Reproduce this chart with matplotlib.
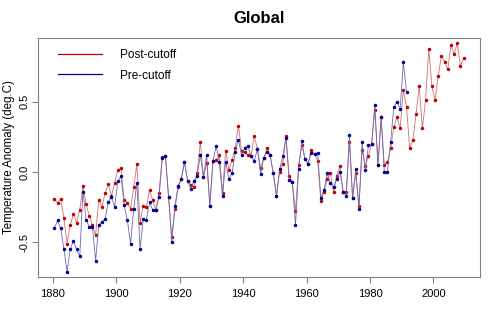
import numpy as np
import matplotlib
matplotlib.use("Agg")
import matplotlib.pyplot as plt
from matplotlib.lines import Line2D

plt.rcParams['font.family'] = ['Liberation Sans', 'DejaVu Sans']

# annual global anomalies (deg C)
post_years = np.arange(1880, 2010)
post_cutoff = [
    -0.19, -0.22, -0.19, -0.33, -0.51, -0.38, -0.30, -0.36, -0.27, -0.10,
    -0.23, -0.31, -0.38, -0.45, -0.20, -0.25, -0.15, -0.085, -0.17, -0.08,
    0.015, 0.027, -0.20, -0.22, -0.26, -0.11, 0.055, -0.36, -0.24, -0.25,
    -0.13, -0.20, -0.27, -0.15, 0.105, 0.114, -0.18, -0.46, -0.265, -0.11,
    -0.05, 0.07, -0.063, -0.09, -0.108, -0.004, 0.21, -0.037, 0.067, -0.24,
    0.08, 0.086, 0.12, -0.15, 0.152, 0.015, 0.086, 0.17, 0.33, 0.15,
    0.145, 0.12, 0.11, 0.256, 0.164, 0.03, 0.098, 0.17, 0.12, -0.01,
    -0.17, 0.0, 0.06, 0.256, -0.03, -0.07, -0.28, 0.05, 0.19, 0.09,
    0.06, 0.157, 0.128, 0.08, -0.205, -0.14, -0.05, -0.01, -0.146, -0.03,
    0.04, -0.14, -0.146, 0.216, -0.186, -0.01, -0.245, 0.157, 0.04, 0.114,
    0.20, 0.44, 0.05, 0.39, 0.05, 0.07, 0.17, 0.32, 0.39, 0.31,
    0.58, 0.46, 0.17, 0.23, 0.41, 0.61, 0.31, 0.51, 0.874, 0.61,
    0.51, 0.685, 0.825, 0.785, 0.73, 0.90, 0.837, 0.915, 0.75, 0.81,
]

pre_years = np.arange(1880, 1992)
pre_cutoff = [
    -0.40, -0.345, -0.40, -0.55, -0.71, -0.55, -0.49, -0.55, -0.60, -0.14,
    -0.34, -0.39, -0.39, -0.63, -0.375, -0.354, -0.333, -0.212, -0.179, -0.248,
    -0.065, -0.032, -0.234, -0.34, -0.51, -0.265, -0.075, -0.55, -0.335, -0.34,
    -0.217, -0.27, -0.27, -0.175, 0.098, 0.114, -0.18, -0.50, -0.24, -0.097,
    -0.05, 0.07, -0.063, -0.12, -0.065, -0.028, 0.12, -0.037, 0.12, -0.24,
    0.08, 0.185, 0.074, -0.17, 0.074, -0.05, -0.01, 0.145, 0.23, 0.12,
    0.173, 0.185, 0.11, 0.077, 0.164, -0.013, 0.098, 0.145, 0.12, -0.01,
    -0.17, 0.02, 0.11, 0.244, -0.056, -0.07, -0.38, 0.022, 0.22, 0.09,
    0.06, 0.138, 0.128, 0.133, -0.186, -0.127, -0.01, -0.08, -0.108, -0.05,
    0.003, -0.14, -0.17, 0.264, -0.186, 0.02, -0.26, 0.21, 0.015, 0.19,
    0.20, 0.477, 0.05, 0.39, 0.0, 0.003, 0.216, 0.46, 0.50, 0.446,
    0.78, 0.57,
]

red_line, red_pt = '#d27070', '#c00000'
blue_line, blue_pt = '#6a6ab4', '#000090'

fig = plt.figure(figsize=(5, 3.25), dpi=100)
ax = fig.add_axes([0.076, 0.148, 0.884, 0.735])

# annual means sit at mid-year
ax.plot(post_years + 0.5, post_cutoff, color=red_line, lw=0.6, marker='o',
        ms=1.5, mec=red_pt, mfc=red_pt)
ax.plot(pre_years + 0.5, pre_cutoff, color=blue_line, lw=0.6, marker='o',
        ms=1.5, mec=blue_pt, mfc=blue_pt)

ax.set_xlim(1875.34, 2014.66)
ax.set_ylim(-0.746, 0.952)
ax.set_xticks([1880, 1900, 1920, 1940, 1960, 1980, 2000])
ax.set_yticks([-0.5, 0.0, 0.5])
ax.set_yticklabels(['-0.5', '0.0', '0.5'], rotation=90, va='center')

for s in ax.spines.values():
    s.set_color('#808080')
    s.set_linewidth(0.8)
ax.tick_params(colors='#808080', labelcolor='black', labelsize=8, length=4,
               width=0.8)
ax.tick_params(axis='x', pad=5)
ax.tick_params(axis='y', pad=2)

ax.set_ylabel('Temperature Anomaly (deg.C)', fontsize=8.3)
ax.yaxis.set_label_coords(-0.052, 0.5)
ax.set_title('Global', fontsize=12, fontweight='bold', pad=11)

handles = [Line2D([], [], color=red_pt, lw=0.9),
           Line2D([], [], color=blue_pt, lw=0.9)]
ax.legend(handles, ['Post-cutoff', 'Pre-cutoff'], loc='upper left',
          bbox_to_anchor=(0.045, 0.955), frameon=False, fontsize=8.5,
          handlelength=3.7, handletextpad=1.6, labelspacing=0.75,
          borderpad=0, borderaxespad=0)

fig.savefig('out.png', dpi=100)
